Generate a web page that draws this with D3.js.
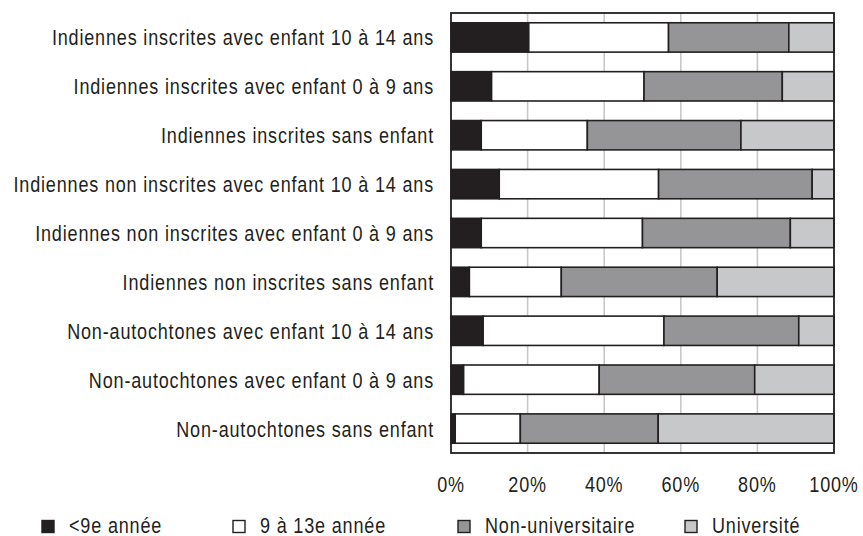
<!DOCTYPE html>
<html>
<head>
<meta charset="utf-8">
<script src="https://cdn.jsdelivr.net/npm/d3@7"></script>
<style>
  body { margin: 0; background: #fff; }
  text { font-family: "Liberation Sans", Arial, sans-serif; fill: #231f20; font-size: 22px; letter-spacing: 1px; }
</style>
</head>
<body>
<svg width="863" height="536"></svg>
<script>
var categories = [
  "Indiennes inscrites avec enfant 10 à 14 ans",
  "Indiennes inscrites avec enfant 0 à 9 ans",
  "Indiennes inscrites sans enfant",
  "Indiennes non inscrites avec enfant 10 à 14 ans",
  "Indiennes non inscrites avec enfant 0 à 9 ans",
  "Indiennes non inscrites sans enfant",
  "Non-autochtones avec enfant 10 à 14 ans",
  "Non-autochtones avec enfant 0 à 9 ans",
  "Non-autochtones sans enfant"
];
var seriesNames = ["<9e année", "9 à 13e année", "Non-universitaire", "Université"];
var lessThan9 = [20.3, 10.6, 7.9, 12.6, 7.9, 4.8, 8.4, 3.3, 1.1];
var grade9to13 = [36.5, 39.8, 27.7, 41.6, 42.1, 24.0, 47.2, 35.4, 17.0];
var nonUniv = [31.4, 36.1, 40.1, 40.1, 38.6, 40.7, 35.2, 40.6, 36.0];
var univ = [11.8, 13.5, 24.3, 5.7, 11.4, 30.5, 9.2, 20.7, 45.9];
var tickValues = [0, 0.2, 0.4, 0.6, 0.8, 1];
var colors = ["#231f20", "#ffffff", "#959598", "#c7c8ca"];

var svg = d3.select("svg"),
    margin = {top: 13, right: 29, bottom: 83, left: 451},
    width = +svg.attr("width") - margin.left - margin.right,
    height = +svg.attr("height") - margin.top - margin.bottom;

// the original type is a condensed face: squeeze the glyphs sideways
var squeeze = 0.82;

var rows = categories.map(function(c, i) {
  var total = lessThan9[i] + grade9to13[i] + nonUniv[i] + univ[i];
  return {
    name: c,
    s0: lessThan9[i] / total,
    s1: grade9to13[i] / total,
    s2: nonUniv[i] / total,
    s3: univ[i] / total
  };
});

var stack = d3.stack().keys(["s0", "s1", "s2", "s3"]);
var layers = stack(rows);

var x = d3.scaleLinear().domain([0, 1]).range([0, width]);
var y = d3.scaleBand().domain(categories).range([0, height])
    .paddingInner(0.4).paddingOuter(0.2);

var g = svg.append("g").attr("transform", "translate(" + margin.left + "," + margin.top + ")");

// gridlines
g.selectAll(".grid")
  .data(tickValues.slice(1, -1))
  .enter().append("line")
    .attr("x1", function(d) { return x(d); })
    .attr("x2", function(d) { return x(d); })
    .attr("y1", 0)
    .attr("y2", height)
    .attr("stroke", "#c8c8c8")
    .attr("stroke-width", 1.6);

// bars
g.selectAll(".layer")
  .data(layers)
  .enter().append("g")
    .attr("fill", function(d, i) { return colors[i]; })
  .selectAll("rect")
  .data(function(d) { return d; })
  .enter().append("rect")
    .attr("x", function(d) { return x(d[0]); })
    .attr("width", function(d) { return x(d[1]) - x(d[0]); })
    .attr("y", function(d) { return y(d.data.name); })
    .attr("height", y.bandwidth())
    .attr("stroke", "#231f20")
    .attr("stroke-width", 1.6);

// frame
g.append("rect")
    .attr("x", 0).attr("y", 0)
    .attr("width", width).attr("height", height)
    .attr("fill", "none")
    .attr("stroke", "#231f20")
    .attr("stroke-width", 1.8);

// category labels
g.selectAll(".cat")
  .data(categories)
  .enter().append("g")
    .attr("transform", function(d) {
      return "translate(-17," + (y(d) + y.bandwidth() / 2 + 8) + ") scale(" + squeeze + ",1)";
    })
  .append("text")
    .attr("text-anchor", "end")
    .text(function(d) { return d; });

// x tick labels
g.selectAll(".tick-label")
  .data(tickValues)
  .enter().append("g")
    .attr("transform", function(d) {
      return "translate(" + x(d) + "," + (height + 39) + ") scale(" + squeeze + ",1)";
    })
  .append("text")
    .attr("text-anchor", "middle")
    .text(function(d) { return d3.format(".0%")(d); });

// legend
var legendX = [42, 233, 458, 685];
var legend = svg.selectAll(".legend")
  .data(seriesNames)
  .enter().append("g")
    .attr("transform", function(d, i) { return "translate(" + legendX[i] + ",520.5)"; });

legend.append("rect")
    .attr("width", 12).attr("height", 12)
    .attr("fill", function(d, i) { return colors[i]; })
    .attr("stroke", "#231f20")
    .attr("stroke-width", 1.4);

legend.append("g")
    .attr("transform", "translate(27,12.5) scale(" + squeeze + ",1)")
  .append("text")
    .text(function(d) { return d; });
</script>
</body>
</html>
